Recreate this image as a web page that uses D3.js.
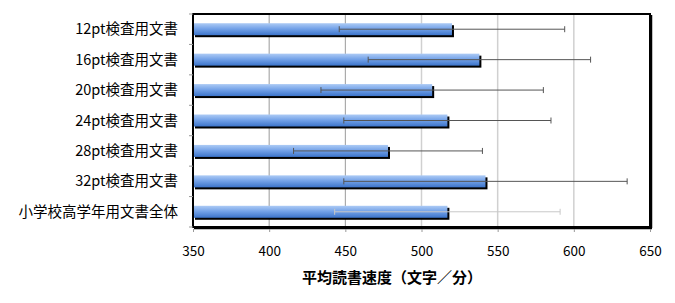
<!DOCTYPE html>
<html>
<head>
<meta charset="utf-8">
<script src="https://cdn.jsdelivr.net/npm/d3@7"></script>
<style>
  body { margin: 0; background: #fff; }
  svg text { font-family: "Noto Sans CJK JP", sans-serif; fill: #000; }
</style>
</head>
<body>
<svg class="readingSpeed" width="675" height="303"></svg>
<script>
// chart data
const categories = ["12pt検査用文書", "16pt検査用文書", "20pt検査用文書", "24pt検査用文書",
                    "28pt検査用文書", "32pt検査用文書", "小学校高学年用文書全体"];
const meanSpeed = [520, 538, 507, 517, 478, 542, 517];
const sdSpeed = [74, 73, 73, 68, 62, 93, 74];
const xTicks = [350, 400, 450, 500, 550, 600, 650];
const xTitle = "平均読書速度（文字／分）";

const margin = {top: 14, right: 25, bottom: 76, left: 193},
    width = 675 - margin.left - margin.right,
    height = 303 - margin.top - margin.bottom;

const svg = d3.select(".readingSpeed")
    .append("g")
    .attr("transform", `translate(${margin.left},${margin.top})`);

const defs = d3.select(".readingSpeed").append("defs");
const grad = defs.append("linearGradient")
    .attr("id", "barGrad")
    .attr("x1", 0).attr("y1", 0).attr("x2", 0).attr("y2", 1);
grad.append("stop").attr("offset", "0%").attr("stop-color", "#adcbf5");
grad.append("stop").attr("offset", "45%").attr("stop-color", "#75a3e8");
grad.append("stop").attr("offset", "100%").attr("stop-color", "#3c74ca");

const x = d3.scaleLinear().domain([350, 650]).range([0, width]);
const y = d3.scaleBand().domain(categories).range([0, height]);

// gridlines
svg.selectAll(".grid")
    .data(xTicks.slice(1, -1))
    .enter()
    .append("line")
    .attr("x1", d => x(d)).attr("x2", d => x(d))
    .attr("y1", 0).attr("y2", height)
    .attr("stroke", d => d <= 450 ? "#9a9a9a" : "#d0d0d0")
    .attr("stroke-width", d => d <= 450 ? 1 : 1.5);

const barH = 12;

// bar shadows
svg.selectAll(".shadow")
    .data(categories)
    .enter()
    .append("rect")
    .attr("x", x(350) + 2)
    .attr("y", d => y(d) + y.bandwidth() / 2 - barH / 2 + 2)
    .attr("width", (d, i) => x(meanSpeed[i]) - x(350))
    .attr("height", barH)
    .attr("fill", "#000");

// bars
svg.selectAll(".bar")
    .data(categories)
    .enter()
    .append("rect")
    .attr("x", x(350))
    .attr("y", d => y(d) + y.bandwidth() / 2 - barH / 2)
    .attr("width", (d, i) => x(meanSpeed[i]) - x(350))
    .attr("height", barH)
    .attr("fill", "url(#barGrad)");

// error bars
const errColor = (i) => i === categories.length - 1 ? "#c8c8c8" : "#555";
categories.forEach((c, i) => {
    const cy = y(c) + y.bandwidth() / 2;
    const lo = x(meanSpeed[i] - sdSpeed[i]), hi = x(meanSpeed[i] + sdSpeed[i]);
    const g = svg.append("g").attr("stroke", errColor(i)).attr("stroke-width", 1);
    g.append("line").attr("x1", lo).attr("x2", hi).attr("y1", cy).attr("y2", cy);
    g.append("line").attr("x1", lo).attr("x2", lo).attr("y1", cy - 3).attr("y2", cy + 3);
    g.append("line").attr("x1", hi).attr("x2", hi).attr("y1", cy - 3).attr("y2", cy + 3);
});

// plot frame
svg.append("rect")
    .attr("x", 0).attr("y", 0)
    .attr("width", width).attr("height", height)
    .attr("fill", "none")
    .attr("stroke", "#000")
    .attr("stroke-width", 2);
svg.append("line")
    .attr("x1", width + 1.5).attr("x2", width + 1.5)
    .attr("y1", 1).attr("y2", height + 1)
    .attr("stroke", "#000").attr("stroke-width", 1.5);
svg.append("line")
    .attr("x1", 1).attr("x2", width + 2)
    .attr("y1", height + 1.5).attr("y2", height + 1.5)
    .attr("stroke", "#000").attr("stroke-width", 1.5);

// x axis
const xAxis = svg.append("g")
    .attr("transform", `translate(0,${height + 2})`)
    .call(d3.axisBottom(x).tickValues(xTicks).tickSize(3).tickPadding(14));
xAxis.select(".domain").remove();
xAxis.selectAll(".tick line").attr("stroke", "#999");
xAxis.selectAll(".tick text")
    .style("font-family", "Noto Sans CJK JP, sans-serif")
    .style("font-size", "13.5px");

// y axis category ticks
const yBounds = d3.range(categories.length + 1).map(k => k * y.step());
svg.selectAll(".ytick")
    .data(yBounds)
    .enter()
    .append("line")
    .attr("x1", -4).attr("x2", 0)
    .attr("y1", d => d).attr("y2", d => d)
    .attr("stroke", "#999");

svg.selectAll(".ylabel")
    .data(categories)
    .enter()
    .append("text")
    .attr("x", -15)
    .attr("y", d => y(d) + y.bandwidth() / 2)
    .attr("dy", "0.35em")
    .attr("text-anchor", "end")
    .style("font-size", "14.5px")
    .text(d => d);

// axis title
svg.append("text")
    .attr("x", 199)
    .attr("y", height + 56)
    .attr("text-anchor", "middle")
    .style("font-size", "15px")
    .style("font-weight", "700")
    .text(xTitle);
</script>
</body>
</html>
